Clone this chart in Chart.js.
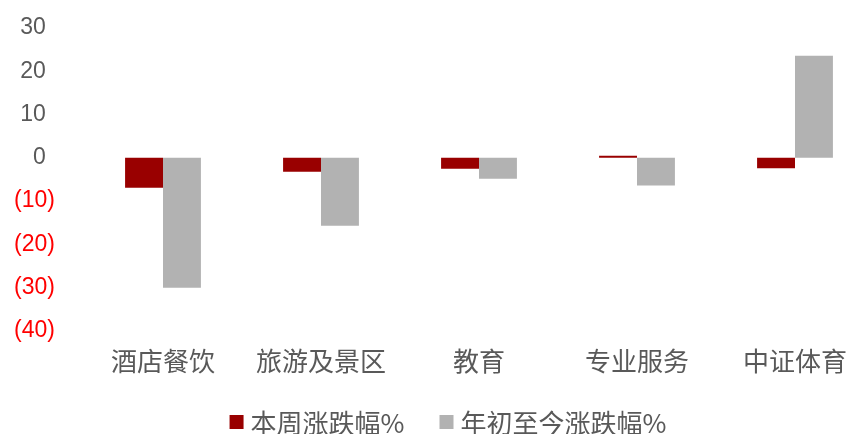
<!DOCTYPE html>
<html>
<head>
<meta charset="utf-8">
<script src="https://cdn.jsdelivr.net/npm/chart.js@4"></script>
<style>
  html, body { margin: 0; padding: 0; background: #fff; overflow: hidden; }
  .wrap { position: relative; width: 875px; height: 434px; }
</style>
</head>
<body>
<div class="wrap"><canvas id="sectorChart"></canvas></div>
<script>
const categories = ['酒店餐饮', '旅游及景区', '教育', '专业服务', '中证体育'];
const weeklyChange = [-6.9, -3.2, -2.5, 0.5, -2.4];
const ytdChange = [-30.0, -15.7, -4.8, -6.4, 23.6];
const seriesNames = ['本周涨跌幅%', '年初至今涨跌幅%'];
const yTicks = [30, 20, 10, 0, -10, -20, -30, -40];

const cjkFont = '"Noto Sans CJK SC", "Noto Sans", sans-serif';
const numFont = '"Liberation Sans", Arial, sans-serif';
const textGray = '#595959';

// negatives shown in brackets, positives padded so digits line up
const formatTick = value => value < 0 ? `(${Math.abs(value)})` : `${value}\u2009\u2009`;

// simple bottom legend: square swatch + label, row centred on centerX
const bottomLegend = {
  id: 'bottomLegend',
  afterDraw(chart, args, opts) {
    const ctx = chart.ctx;
    ctx.save();
    ctx.font = `${opts.fontSize}px ${cjkFont}`;
    ctx.textBaseline = 'middle';
    const items = chart.data.datasets.map(ds => ({
      text: ds.label,
      color: ds.backgroundColor,
      width: opts.box + opts.textGap + ctx.measureText(ds.label).width
    }));
    const total = items.reduce((sum, it) => sum + it.width, 0) + opts.itemGap * (items.length - 1);
    let x = opts.centerX - total / 2;
    items.forEach(it => {
      ctx.fillStyle = it.color;
      ctx.fillRect(x, opts.y - opts.box / 2, opts.box, opts.box);
      ctx.fillStyle = textGray;
      ctx.fillText(it.text, x + opts.box + opts.textGap, opts.y + 1);
      x += it.width + opts.itemGap;
    });
    ctx.restore();
  }
};

new Chart(document.getElementById('sectorChart'), {
  type: 'bar',
  data: {
    labels: categories,
    datasets: [
      {
        label: seriesNames[0],
        data: weeklyChange,
        backgroundColor: '#990000',
        categoryPercentage: 0.48,
        barPercentage: 1
      },
      {
        label: seriesNames[1],
        data: ytdChange,
        backgroundColor: '#B2B2B2',
        categoryPercentage: 0.48,
        barPercentage: 1
      }
    ]
  },
  plugins: [bottomLegend],
  options: {
    responsive: true,
    maintainAspectRatio: false,
    animation: false,
    layout: { padding: { top: 0, right: 1, bottom: 53, left: 0 } },
    plugins: {
      tooltip: { enabled: false },
      legend: { display: false },
      bottomLegend: { centerX: 448, y: 422, box: 14, textGap: 7, itemGap: 35, fontSize: 26 }
    },
    scales: {
      x: {
        afterFit: axis => { axis.height = 50; },
        grid: { display: false, drawTicks: false },
        border: { display: false },
        ticks: {
          color: textGray,
          font: { family: cjkFont, size: 26 },
          padding: 15,
          maxRotation: 0,
          autoSkip: false
        }
      },
      y: {
        min: Math.min(...yTicks),
        max: Math.max(...yTicks),
        afterBuildTicks: axis => { axis.ticks = yTicks.map(value => ({ value })); },
        afterFit: axis => {
          axis.width = 84;
          axis.paddingTop = 28;
          axis.paddingBottom = 0;
        },
        grid: { display: false, drawTicks: false },
        border: { display: false },
        ticks: {
          padding: 29,
          font: { family: numFont, size: 23 },
          color: ctx => ctx.tick.value < 0 ? '#FF0000' : textGray,
          callback: value => formatTick(value)
        }
      }
    }
  }
});
</script>
</body>
</html>
